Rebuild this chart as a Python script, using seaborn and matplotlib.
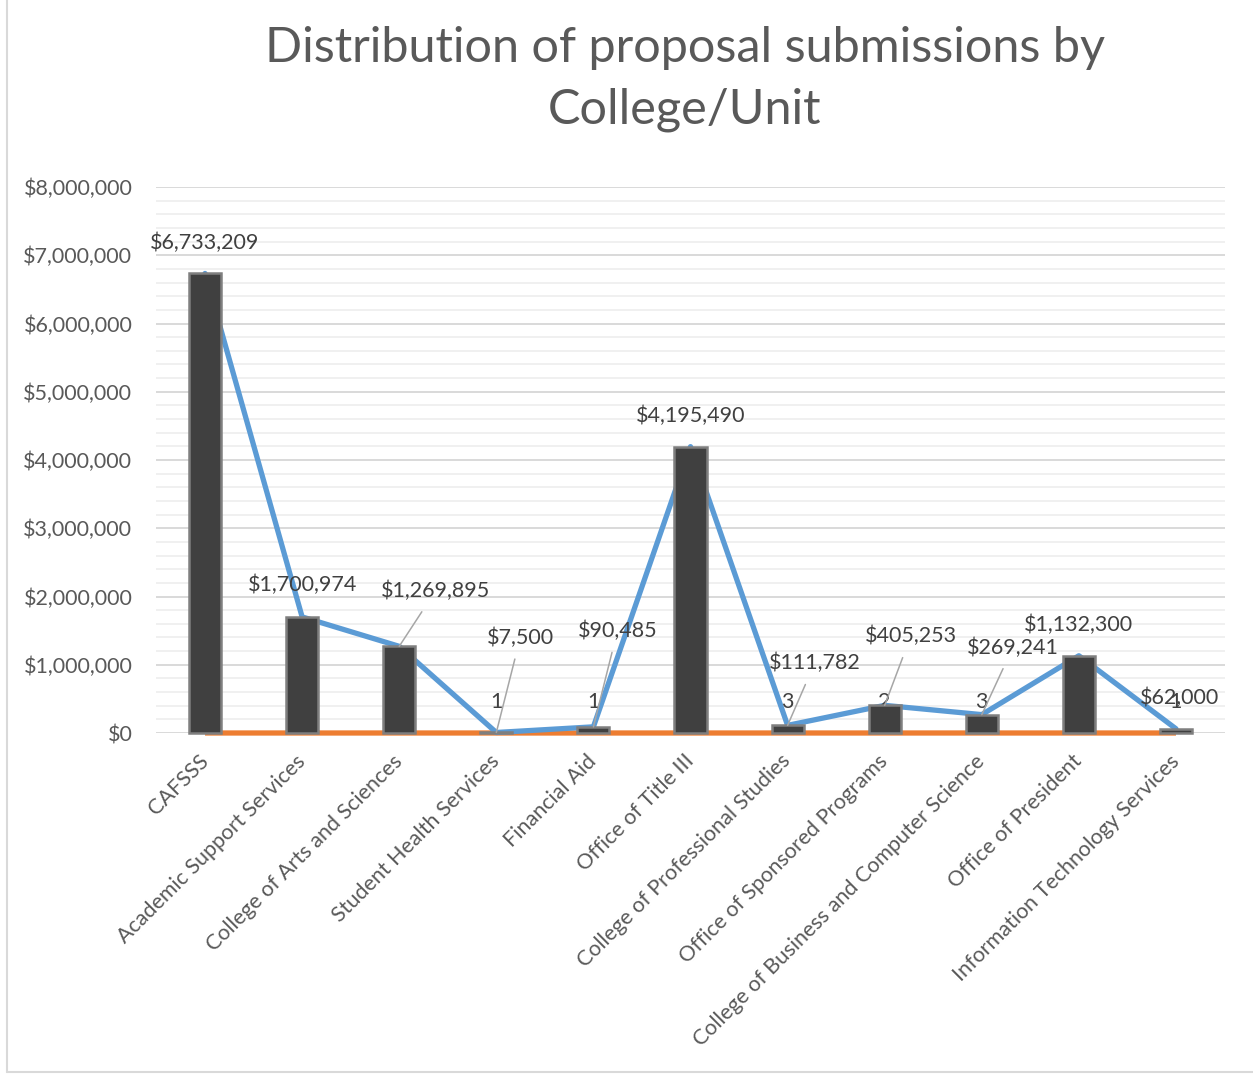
import numpy as np
import pandas as pd
import matplotlib
matplotlib.use("Agg")
import matplotlib.pyplot as plt
import seaborn as sns
from matplotlib.ticker import FuncFormatter, MultipleLocator
from matplotlib.lines import Line2D

# ---- data -------------------------------------------------------------
units = [
    "CAFSSS",
    "Academic Support Services",
    "College of Arts and Sciences",
    "Student Health Services",
    "Financial Aid",
    "Office of Title III",
    "College of Professional Studies",
    "Office of Sponsored Programs",
    "College of Business and Computer Science",
    "Office of President",
    "Information Technology Services",
]
amounts = [6733209, 1700974, 1269895, 7500, 90485, 4195490,
           111782, 405253, 269241, 1132300, 62000]
submissions = [6, 2, 4, 1, 1, 2, 3, 2, 3, 1, 1]

# ---- label placement (pixel offsets from each point) ------------------
amount_label_offsets = [(0, 31), (0, 32), (36, 55), (24, 95), (24, 96),
                        (0, 31), (27, 62), (26, 69), (31, 67), (0, 31), (4, 31)]
amount_label_leader = [False, False, True, True, True,
                       False, True, True, True, False, False]

df = pd.DataFrame({"unit": units, "amount": amounts, "count": submissions})
pos = np.arange(len(units))

sns.set_theme(style="white")
plt.rcParams["font.family"] = ["Lato", "DejaVu Sans"]

BAR = "#404040"
BAR_EDGE = "#7f7f7f"
BLUE = "#5b9bd5"
ORANGE = "#ed7d31"
TEXT = "#595959"
LABEL = "#404040"

fig = plt.figure(figsize=(12.53, 10.75), dpi=100)
ax = fig.add_axes([156 / 1253, 1 - 733 / 1075, 1069 / 1253, 546 / 1075])

# lines sit behind the bars
sns.lineplot(x=pos, y=df["count"], ax=ax, color=ORANGE, linewidth=3.8,
             estimator=None, sort=False, zorder=2, clip_on=False,
             solid_capstyle="butt")
sns.lineplot(x=pos, y=df["amount"], ax=ax, color=BLUE, linewidth=3.8,
             estimator=None, sort=False, zorder=2, clip_on=False,
             solid_capstyle="round", solid_joinstyle="round")

sns.barplot(data=df, x="unit", y="amount", ax=ax, color=BAR, saturation=1,
            width=0.33, edgecolor=BAR_EDGE, linewidth=1.8, zorder=3)
for p in ax.patches:
    p.set_clip_on(False)

# submission counts (dark text; hidden where a tall bar covers it)
for i, c in enumerate(submissions):
    ax.annotate(str(c), (i, c), xytext=(0, 31), textcoords="offset pixels",
                ha="center", va="center", fontsize=15.5, color=LABEL, zorder=2.5)

# dollar amount labels
for i, v in enumerate(amounts):
    dx, dy = amount_label_offsets[i]
    kw = {}
    if amount_label_leader[i]:
        kw["arrowprops"] = dict(arrowstyle="-", color="#a6a6a6", lw=1.1,
                                shrinkA=6, shrinkB=0)
    ax.annotate(f"${v:,.0f}", (i, v), xytext=(dx, dy),
                textcoords="offset pixels", ha="center", va="center",
                fontsize=15.5, color=LABEL, zorder=4, **kw)

ax.set_xlim(-0.505, len(units) - 0.495)
ax.set_ylim(0, 8_000_000)
ax.yaxis.set_major_locator(MultipleLocator(1_000_000))
ax.yaxis.set_minor_locator(MultipleLocator(200_000))
ax.yaxis.set_major_formatter(FuncFormatter(lambda v, _: f"${v:,.0f}"))
ax.grid(axis="y", which="major", color="#d9d9d9", linewidth=1.4, zorder=0)
ax.grid(axis="y", which="minor", color="#eeeeee", linewidth=1.2, zorder=0)
ax.grid(axis="x", visible=False)
ax.set_axisbelow(True)
for s in ax.spines.values():
    s.set_visible(False)
ax.set_xlabel("")
ax.set_ylabel("")

ax.tick_params(axis="y", which="both", length=0, pad=17, labelsize=15.5,
               labelcolor=TEXT)
ax.tick_params(axis="x", length=0, pad=18, labelsize=15.5, labelcolor=TEXT)
for lab in ax.get_xticklabels():
    lab.set_rotation(45)
    lab.set_ha("right")
    lab.set_va("center")
    lab.set_rotation_mode("anchor")

fig.text(685 / 1253, 1 - 79 / 1075,
         "Distribution of proposal submissions by\nCollege/Unit",
         ha="center", va="center", fontsize=35, color=TEXT,
         fontweight="normal", linespacing=1.5)

# chart frame edges
fig.add_artist(Line2D([7 / 1253, 7 / 1253], [0.003, 1], transform=fig.transFigure,
                      color="#d9d9d9", lw=1.5))
fig.add_artist(Line2D([7 / 1253, 1], [0.003, 0.003], transform=fig.transFigure,
                      color="#d9d9d9", lw=1.5))

fig.savefig("out.png", dpi=100, facecolor="white")
